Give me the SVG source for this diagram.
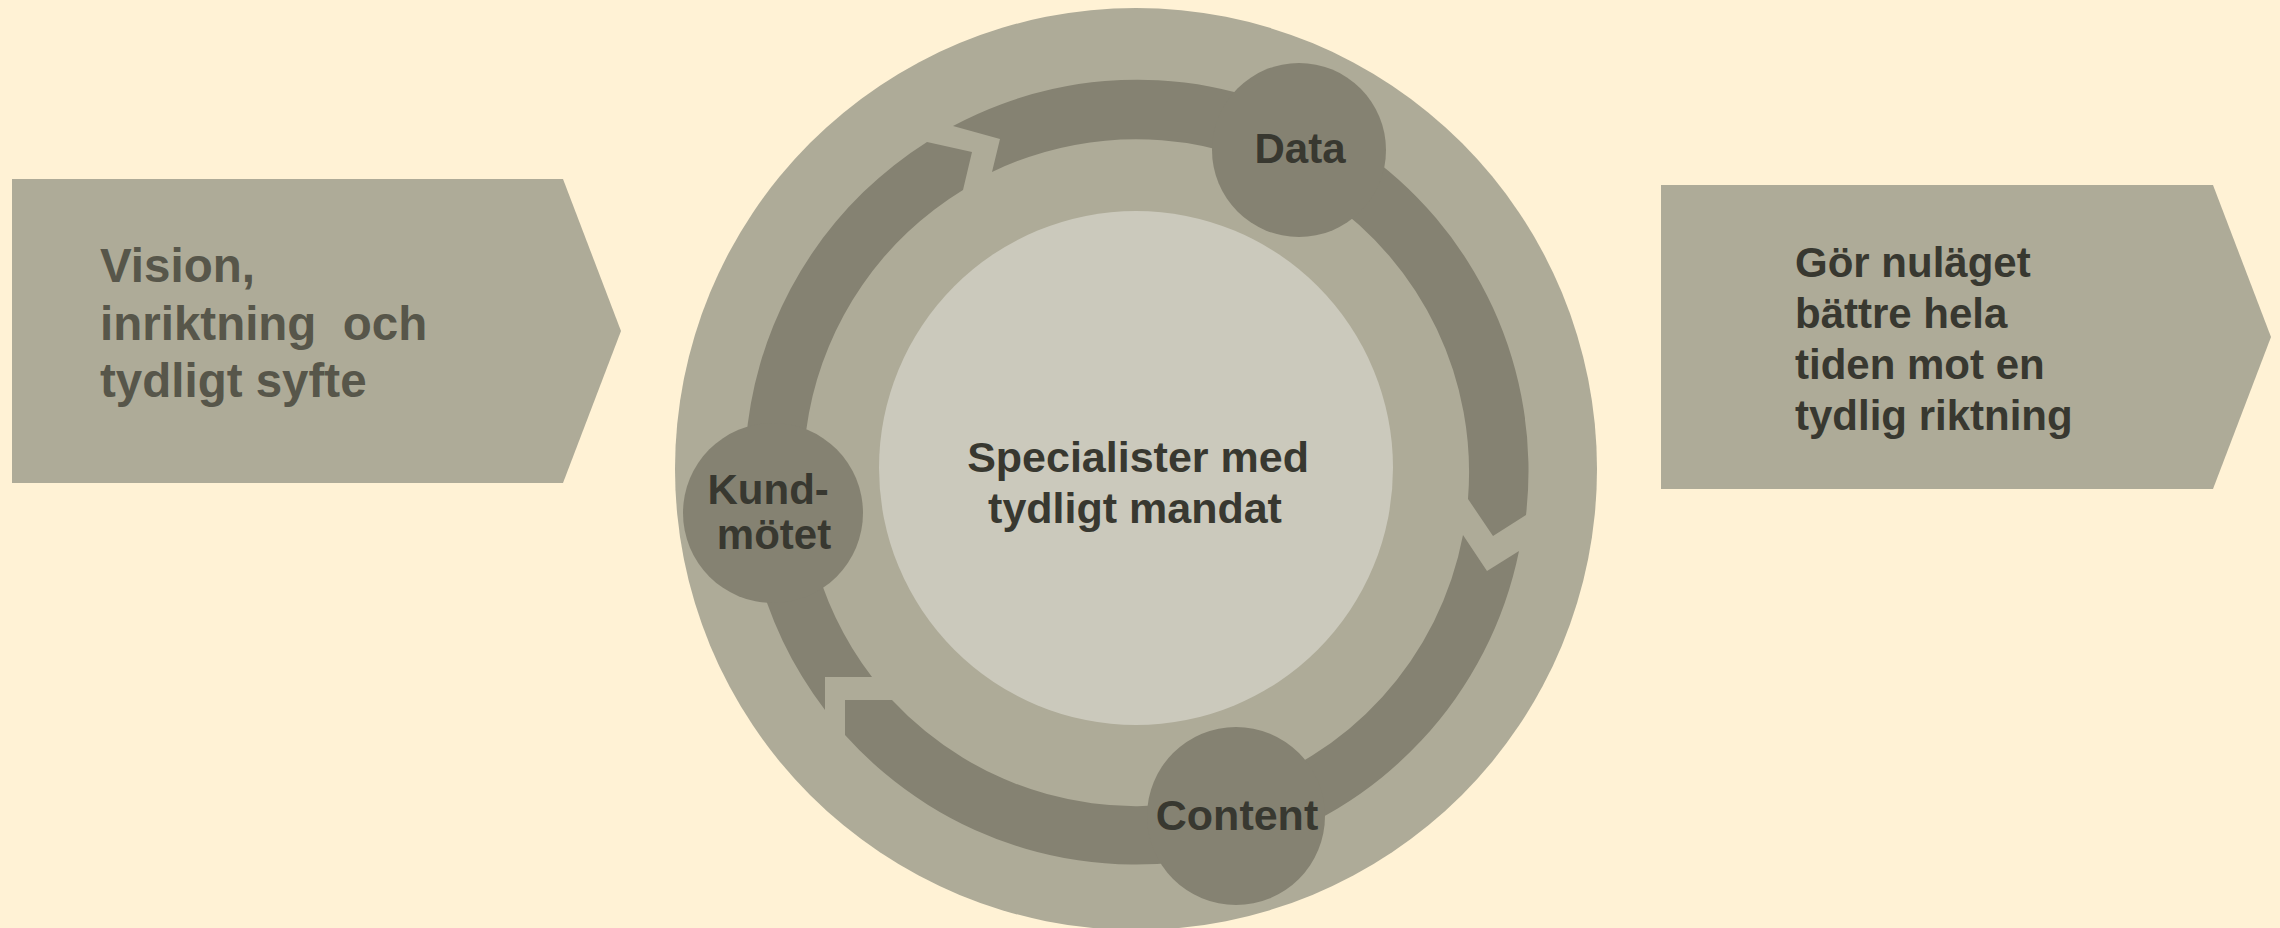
<svg xmlns="http://www.w3.org/2000/svg" width="2280" height="928" viewBox="0 0 2280 928">
  <style>
    .panel { fill: #AEAB98; }
    .band { fill: #858272; }
    .node { fill: #858272; }
    .hub { fill: #CBC9BC; }
    .lbl { font-family: "Liberation Sans", Arial, sans-serif; font-weight: bold; fill: #383830; }
    .side { font-family: "Liberation Sans", Arial, sans-serif; font-weight: bold; fill: #57564A; }
  </style>
  <rect x="0" y="0" width="2280" height="928" fill="#FFF2D5"/>

  <g id="left-arrow">
    <polygon class="panel" points="12,179 563,179 621,331 563,483 12,483"/>
    <text class="side" font-size="47.5" x="100" style="white-space:pre">
      <tspan x="100" y="282">Vision,</tspan>
      <tspan x="100" y="340">inriktning  och</tspan>
      <tspan x="100" y="397">tydligt syfte</tspan>
    </text>
  </g>

  <g id="right-arrow">
    <polygon class="panel" points="1661,185 2213,185 2271,337 2213,489 1661,489"/>
    <text class="lbl" font-size="42">
      <tspan x="1795" y="277">Gör nuläget</tspan>
      <tspan x="1795" y="328">bättre hela</tspan>
      <tspan x="1795" y="379">tiden mot en</tspan>
      <tspan x="1795" y="430">tydlig riktning</tspan>
    </text>
  </g>

  <g id="outer-circle">
    <circle class="panel" cx="1136" cy="469" r="461"/>
  </g>

  <g id="center">
    <circle class="hub" cx="1136" cy="468" r="257"/>
    <text class="lbl" font-size="43" text-anchor="middle">
      <tspan x="1144" y="472">Specialister med</tspan>
      <tspan x="1135" y="523">tydligt mandat</tspan>
    </text>
  </g>

  <g id="connectors">
    <path class="band" d="M825,710 L825,677 L872,677 A333,333 0 0 1 963,190 L972,152 L927,142 A391,391 0 0 0 825,710 Z"/>
    <path class="band" d="M953,126 L1000,139 L992,172 A333,333 0 0 1 1468,499 L1493,536 L1526,515 A391,391 0 0 0 953,126 Z"/>
    <path class="band" d="M1519,551 L1487,571 L1463,535 A333,333 0 0 1 892,700 L845,700 L845,735 A391,391 0 0 0 1519,551 Z"/>
  </g>

  <g id="node-data">
    <circle class="node" cx="1299" cy="150" r="87"/>
    <text class="lbl" font-size="42" text-anchor="middle" x="1300" y="163">Data</text>
  </g>

  <g id="node-kundmotet">
    <circle class="node" cx="773" cy="513" r="90"/>
    <text class="lbl" font-size="42" text-anchor="middle">
      <tspan x="774" y="504">Kund-</tspan>
      <tspan x="774" y="549">mötet</tspan>
    </text>
  </g>

  <g id="node-content">
    <circle class="node" cx="1236" cy="816" r="89"/>
    <text class="lbl" font-size="43" text-anchor="middle" x="1237" y="830">Content</text>
  </g>
</svg>
